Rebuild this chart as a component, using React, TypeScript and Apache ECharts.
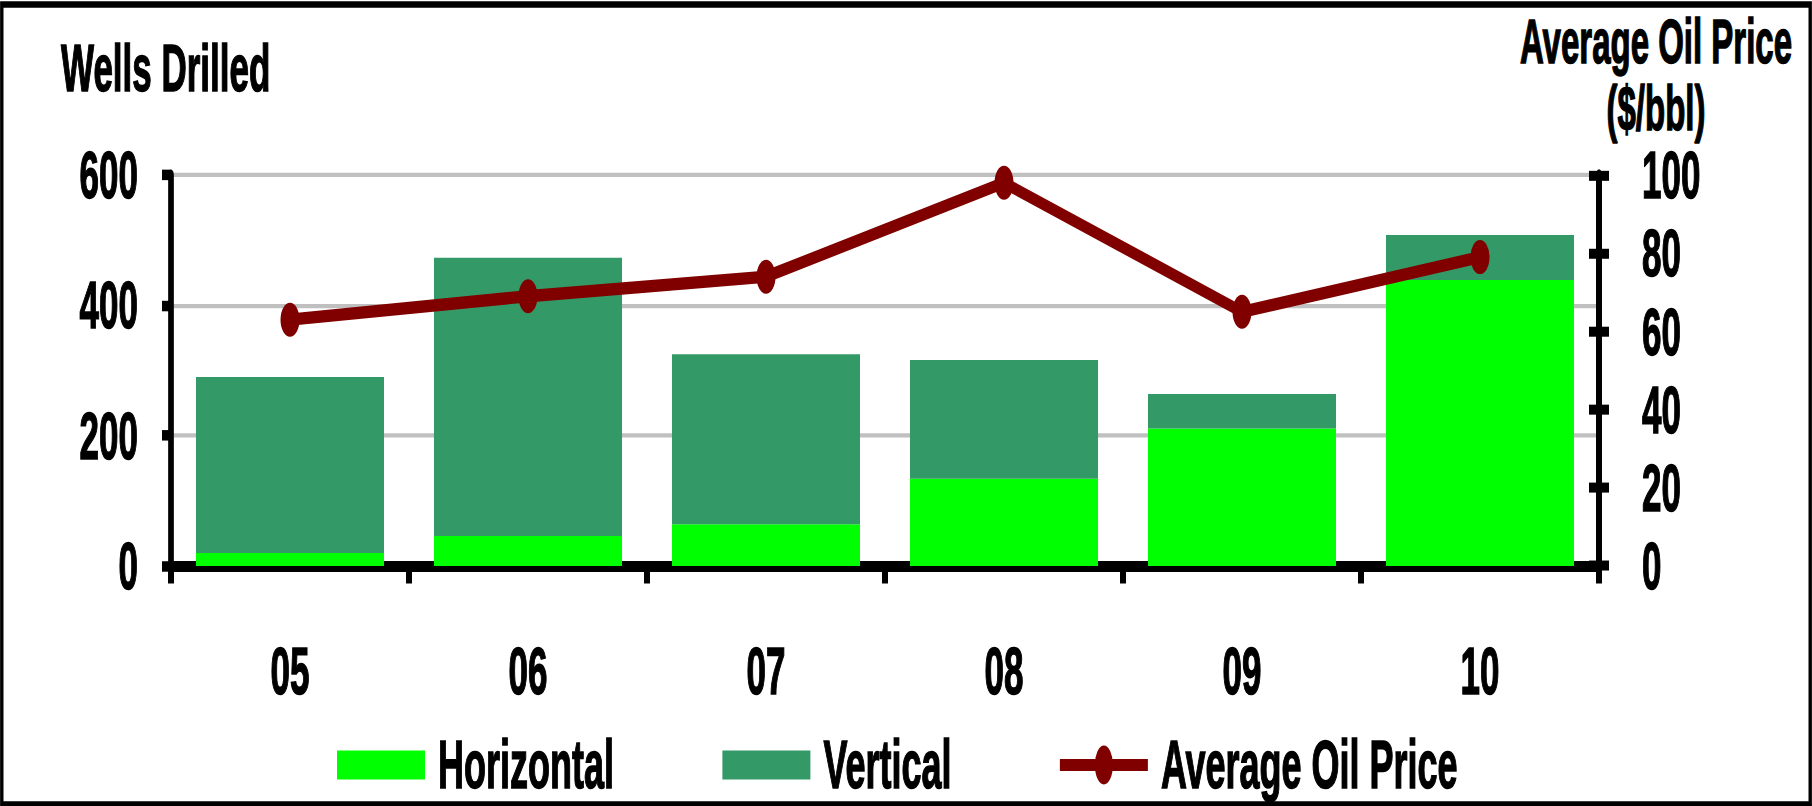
import React, { useEffect, useRef } from "react";
import * as echarts from "echarts";

// ---- data ----
const categories = ["05", "06", "07", "08", "09", "10"];
const horizontalWells = [20, 46, 64, 134, 211, 439];
const verticalWells = [270, 427, 261, 182, 53, 69];
const oilPrice = [63, 69, 74, 98, 65, 79];
const wellsTicks = [0, 200, 400, 600];
const priceTicks = [0, 20, 40, 60, 80, 100];

// ---- layout helpers (chart is rendered short and stretched vertically, like the reference) ----
const W = 1812;
const H_REAL = 806;
const H = 424;
const S = H_REAL / H;
const Y = (v: number) => v / S;
const FONT = "'Liberation Sans', Arial, sans-serif";
const ELLIPSE = "path://M50,0A50,50,0,1,1,50,100A50,50,0,1,1,50,0Z";
// legend icons drawn in a 88 x 39 box (before vertical squeeze)
const LEGEND_BOX = "path://M0,0M88,39M0,5L88,5L88,34L0,34Z";
const LEGEND_LINE = "path://M0,0M88,39M0,13.5L88,13.5L88,25.5L0,25.5Z M44,0A9,19.5,0,1,1,44,39A9,19.5,0,1,1,44,0Z";

export default function App() {
  const ref = useRef<HTMLDivElement>(null);

  useEffect(() => {
    if (!ref.current) return;
    const chart = echarts.init(ref.current, undefined, { renderer: "svg" });
    const labelStyle = {
      fontSize: 35,
      lineHeight: 29,
      fontWeight: "bold" as const,
      fontFamily: FONT,
      color: "#000",
      textBorderColor: "#000",
      textBorderWidth: 0.8,
    };
    const titleStyle = {
      fontSize: 33,
      lineHeight: 28,
      fontWeight: "bold" as const,
      fontFamily: FONT,
      fill: "#000",
      stroke: "#000",
      lineWidth: 0.8,
      textVerticalAlign: "middle" as const,
    };
    chart.setOption({
      animation: false,
      backgroundColor: "#fff",
      grid: { left: 171, right: W - 1599, top: Y(175), bottom: H - Y(566), containLabel: false },
      legend: {
        left: 332,
        top: Y(755.5) - 24,
        itemWidth: 88,
        itemHeight: Y(39),
        itemGap: 108,
        symbolKeepAspect: false,
        textStyle: { ...labelStyle, fontSize: 36, lineHeight: 48, padding: [0, 0, 0, 8] },
        data: [
          { name: "Horizontal", icon: LEGEND_BOX },
          { name: "Vertical", icon: LEGEND_BOX },
          { name: "Average Oil Price", icon: LEGEND_LINE, itemStyle: { color: "#800000", borderWidth: 0 } },
        ],
      },
      xAxis: {
        type: "category",
        data: categories,
        boundaryGap: true,
        axisLine: { show: true, lineStyle: { color: "#000", width: Y(11) } },
        axisTick: { show: true, interval: 0, length: Y(17.5), lineStyle: { color: "#000", width: 6 } },
        axisLabel: { ...labelStyle, lineHeight: 40, margin: 35, interval: 0 },
        splitLine: { show: false },
      },
      yAxis: [
        {
          type: "value",
          position: "left",
          min: wellsTicks[0],
          max: wellsTicks[wellsTicks.length - 1],
          interval: wellsTicks[1] - wellsTicks[0],
          axisLine: { show: true, lineStyle: { color: "#000", width: 5.7 } },
          axisTick: { show: true, inside: false, length: 9, lineStyle: { color: "#000", width: Y(10.5) } },
          axisLabel: { ...labelStyle, margin: 33, padding: [5, 0, 0, 0] },
          splitLine: { show: true, lineStyle: { color: "#C0C0C0", width: Y(4.3) } },
        },
        {
          type: "value",
          position: "right",
          min: priceTicks[0],
          max: priceTicks[priceTicks.length - 1],
          interval: priceTicks[1] - priceTicks[0],
          axisLine: { show: true, lineStyle: { color: "#000", width: 6 } },
          axisTick: { show: true, inside: false, length: 10, lineStyle: { color: "#000", width: Y(10) } },
          axisLabel: { ...labelStyle, margin: 43, padding: [5, 0, 0, 0] },
          splitLine: { show: false },
        },
        {
          type: "value",
          position: "right",
          min: priceTicks[0],
          max: priceTicks[priceTicks.length - 1],
          interval: priceTicks[1] - priceTicks[0],
          axisLine: { show: false },
          axisTick: { show: true, inside: true, length: 10, lineStyle: { color: "#000", width: Y(10) } },
          axisLabel: { show: false },
          splitLine: { show: false },
        },
      ],
      series: [
        {
          name: "Horizontal",
          type: "bar",
          stack: "wells",
          yAxisIndex: 0,
          barCategoryGap: "21%",
          itemStyle: { color: "#00FF00" },
          data: horizontalWells,
        },
        {
          name: "Vertical",
          type: "bar",
          stack: "wells",
          yAxisIndex: 0,
          barCategoryGap: "21%",
          itemStyle: { color: "#339966" },
          data: verticalWells,
        },
        {
          name: "Average Oil Price",
          type: "line",
          yAxisIndex: 1,
          z: 5,
          symbol: ELLIPSE,
          symbolSize: [19, Y(34)],
          lineStyle: { color: "#800000", width: 6.5 },
          itemStyle: { color: "#800000" },
          data: oilPrice,
        },
      ],
      graphic: [
        {
          type: "rect",
          shape: { x: 1.8, y: Y(4.5), width: W - 3.6, height: Y(800) },
          style: { fill: "none", stroke: "#000", lineWidth: 3.4 },
          silent: true,
        },
        {
          type: "text",
          x: 61,
          y: Y(65.5) + 1,
          style: { text: "Wells Drilled", ...titleStyle, fontSize: 35, textAlign: "left" },
        },
        {
          type: "text",
          x: 1656,
          y: Y(40) + 1,
          style: { text: "Average Oil Price", ...titleStyle, textAlign: "center" },
        },
        {
          type: "text",
          x: 1656,
          y: Y(107) + 1,
          style: { text: "($/bbl)", ...titleStyle, textAlign: "center" },
        },
      ],
    });
    return () => chart.dispose();
  }, []);

  return (
    <div style={{ position: "fixed", left: 0, top: 0, width: W, height: H_REAL, overflow: "hidden", background: "#fff" }}>
      <div
        ref={ref}
        style={{ width: W, height: H, transform: `scaleY(${S})`, transformOrigin: "0 0" }}
      />
    </div>
  );
}
